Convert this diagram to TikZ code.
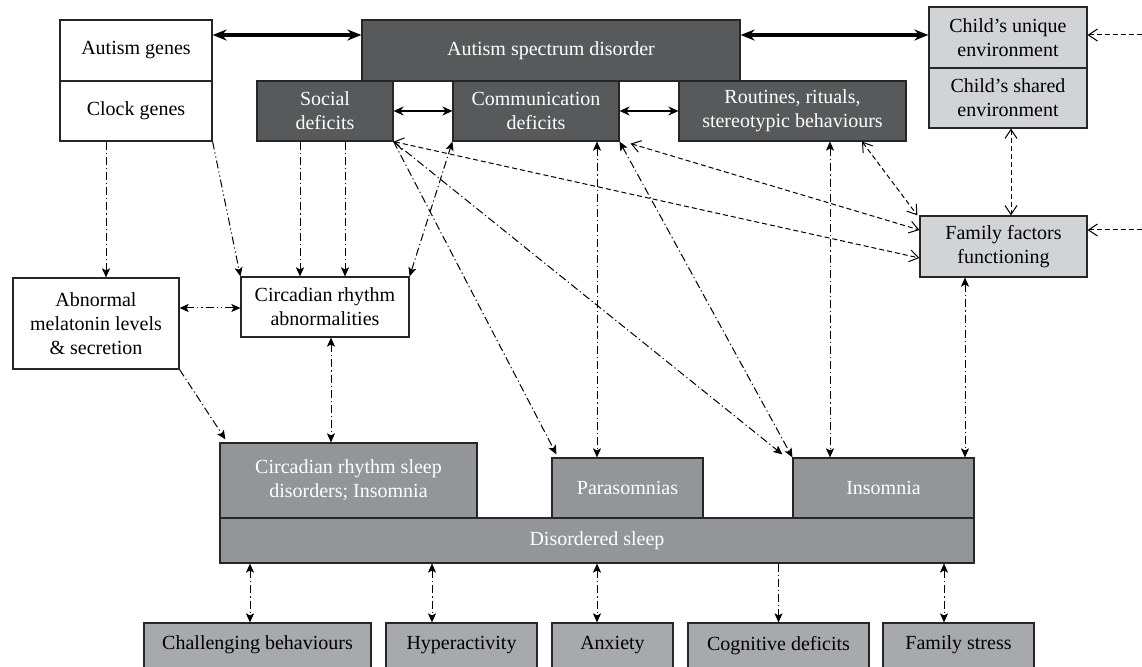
\documentclass[tikz,border=0pt]{standalone}
\usepackage{fontspec}
\setmainfont{Liberation Serif}
\usepackage{tikz}
\usetikzlibrary{arrows.meta,positioning}

\definecolor{asdgrey}{HTML}{58595B}
\definecolor{sleepgrey}{HTML}{939598}
\definecolor{envgrey}{HTML}{D1D3D4}
\definecolor{outgrey}{HTML}{A7A9AC}

\begin{document}
\begin{tikzpicture}[x=0.5pt,y=-0.5pt,>={Stealth[length=4.5pt,width=4pt,inset=1pt]},font=\fontsize{10}{12}\selectfont]
		\tikzstyle{box}=[rectangle, draw=black!85, line width=0.6pt, align=center, inner sep=0pt]
		\tikzstyle{gene box}=[box, fill=white]
		\tikzstyle{asd box}=[box, fill=asdgrey, text=white]
		\tikzstyle{sleep box}=[box, fill=sleepgrey, text=white]
		\tikzstyle{env box}=[box, fill=envgrey]
		\tikzstyle{out box}=[box, fill=outgrey, minimum height=26pt, text depth=6pt]
		\tikzstyle{thick link}=[line width=1.6pt, {Stealth[length=7pt,width=5.5pt]}-{Stealth[length=7pt,width=5.5pt]}]
		\tikzstyle{solid link}=[line width=1pt, {Stealth[length=5pt,width=4.5pt]}-{Stealth[length=5pt,width=4.5pt]}]
		\tikzstyle{dash link}=[line width=0.5pt, dash pattern=on 2.5pt off 1.5pt, >={Straight Barb[length=4.5pt,width=6pt]}]
		\tikzstyle{dd link}=[line width=0.5pt, dash pattern=on 4pt off 1.5pt on 0.6pt off 1.5pt]
		\tikzstyle{ddd link}=[line width=0.5pt, dash pattern=on 4pt off 1.5pt on 0.6pt off 1.5pt on 0.6pt off 1.5pt]

		\useasboundingbox (0,0) rectangle (1142,667);

		\node [gene box, minimum width=76pt, minimum height=30.5pt] (autgenes) at (136,50.5) {Autism genes};
		\node [gene box, minimum width=76pt, minimum height=30pt] (clockgenes) at (136,111) {Clock genes};
		\node [asd box, minimum width=189pt, minimum height=30.5pt] (asd) at (551,50.5) {Autism spectrum disorder};
		\node [asd box, minimum width=68pt, minimum height=30pt] (social) at (325,111) {Social\\deficits};
		\node [asd box, minimum width=83pt, minimum height=30pt] (comm) at (536,111) {Communication\\deficits};
		\node [asd box, minimum width=113.5pt, minimum height=30pt] (routines) at (792.5,111) {Routines, rituals,\\stereotypic behaviours};
		\node [env box, minimum width=79pt, minimum height=30.5pt] (unique) at (1008,37.5) {Child's unique\\environment};
		\node [env box, minimum width=79pt, minimum height=30pt] (shared) at (1008,98) {Child's shared\\environment};
		\node [env box, minimum width=83.5pt, minimum height=30.5pt] (family) at (1003.5,246.5) {Family factors\\functioning};
		\node [gene box, minimum width=83pt, minimum height=45.5pt] (melatonin) at (96,323.5) {Abnormal\\melatonin levels\\\& secretion};
		\node [gene box, minimum width=84pt, minimum height=30pt] (cra) at (325,307) {Circadian rhythm\\abnormalities};
		\node [sleep box, minimum width=128.5pt, minimum height=37.5pt] (crsd) at (348.5,480.5) {Circadian rhythm sleep\\disorders; Insomnia};
		\node [sleep box, minimum width=75.5pt, minimum height=30pt] (paras) at (627.5,488) {Parasomnias};
		\node [sleep box, minimum width=90.5pt, minimum height=30pt] (insom) at (883.5,488) {Insomnia};
		\node [sleep box, minimum width=377pt, minimum height=22.5pt] (dsleep) at (597,540.5) {Disordered sleep};
		\node [out box, minimum width=113.5pt] (challenging) at (257.5,649) {Challenging behaviours};
		\node [out box, minimum width=75.5pt] (hyper) at (461.5,649) {Hyperactivity};
		\node [out box, minimum width=60.5pt] (anxiety) at (612.5,649) {Anxiety};
		\node [out box, minimum width=90.5pt] (cognitive) at (778.5,649) {Cognitive deficits};
		\node [out box, minimum width=75.5pt] (fstress) at (958.5,649) {Family stress};

		\coordinate (uin) at (1142,35);
		\coordinate (fin) at (1142,230);

		% core links
		\draw [thick link] ([yshift=7.75pt]autgenes.east) -- ([yshift=7.75pt]asd.west);
		\draw [thick link] ([yshift=7.75pt]asd.east) -- ([yshift=1.25pt]unique.west);
		\draw [solid link] (social.east) -- (comm.west);
		\draw [solid link] (comm.east) -- (routines.west);

		% environment
		\draw [dash link, ->] (uin) -- ([yshift=1.25pt]unique.east);
		\draw [dash link, ->] (fin) -- ([yshift=8.25pt]family.east);
		\draw [dash link, <->] ([xshift=1.5pt]shared.south) -- ([xshift=1.5pt]shared.south |- family.north);
		\draw [dash link, <->] ([xshift=34.75pt]routines.south) -- ([xshift=-1pt]family.north west);
		\draw [dash link, <->] ([xshift=5.5pt,yshift=-1pt]comm.south east) -- ([yshift=8.25pt]family.west);
		\draw [dash link, <->] (social.south east) -- ([yshift=-5.75pt]family.west);

		% to sleep problems
		\draw [dd link, ->] (social.south east) -- ([xshift=2.5pt,yshift=1.5pt]paras.north west);
		\draw [dd link, ->] (social.south east) -- ([xshift=-5pt,yshift=1.5pt]insom.north west);
		\draw [dd link, <->] (comm.south east) -- (insom.north west);
		\draw [dd link, <->] ([xshift=30.5pt]comm.south) -- ([xshift=30.5pt]comm.south |- paras.north);
		\draw [dd link, <->] ([xshift=18.75pt]routines.south) -- ([xshift=18.75pt]routines.south |- insom.north);
		\draw [dd link, <->] ([xshift=-19.25pt]family.south) -- ([xshift=-19.25pt]family.south |- insom.north);
		\draw [dd link, <->] (cra.north east) -- (comm.south west);
		\draw [dd link, ->] ([xshift=-12.5pt]social.south) -- ([xshift=-12.5pt]cra.north);
		\draw [dd link, ->] ([xshift=10pt]social.south) -- ([xshift=10pt]cra.north);
		\draw [dd link, ->] ([xshift=-15pt]clockgenes.south) -- ([xshift=-15pt]clockgenes.south |- melatonin.north);
		\draw [ddd link, ->] (clockgenes.south east) -- (cra.north west);
		\draw [ddd link, <->] ([yshift=7.75pt]melatonin.east) -- ([yshift=7.75pt]melatonin.east -| cra.west);
		\draw [dd link, ->] (melatonin.south east) -- ([xshift=3pt,yshift=1.5pt]crsd.north west);
		\draw [dd link, <->] ([xshift=3pt]cra.south) -- ([xshift=3pt]cra.south |- crsd.north);

		% outcomes
		\draw [dd link, <->] ([xshift=-3.75pt]challenging.north |- dsleep.south) -- ([xshift=-3.75pt]challenging.north);
		\draw [dd link, <->] ([xshift=-14.75pt]hyper.north |- dsleep.south) -- ([xshift=-14.75pt]hyper.north);
		\draw [dd link, <->] ([xshift=-7.75pt]anxiety.north |- dsleep.south) -- ([xshift=-7.75pt]anxiety.north);
		\draw [dd link, ->] (cognitive.north |- dsleep.south) -- (cognitive.north);
		\draw [dd link, <->] ([xshift=-7.25pt]fstress.north |- dsleep.south) -- ([xshift=-7.25pt]fstress.north);
	\end{tikzpicture}
\end{document}
